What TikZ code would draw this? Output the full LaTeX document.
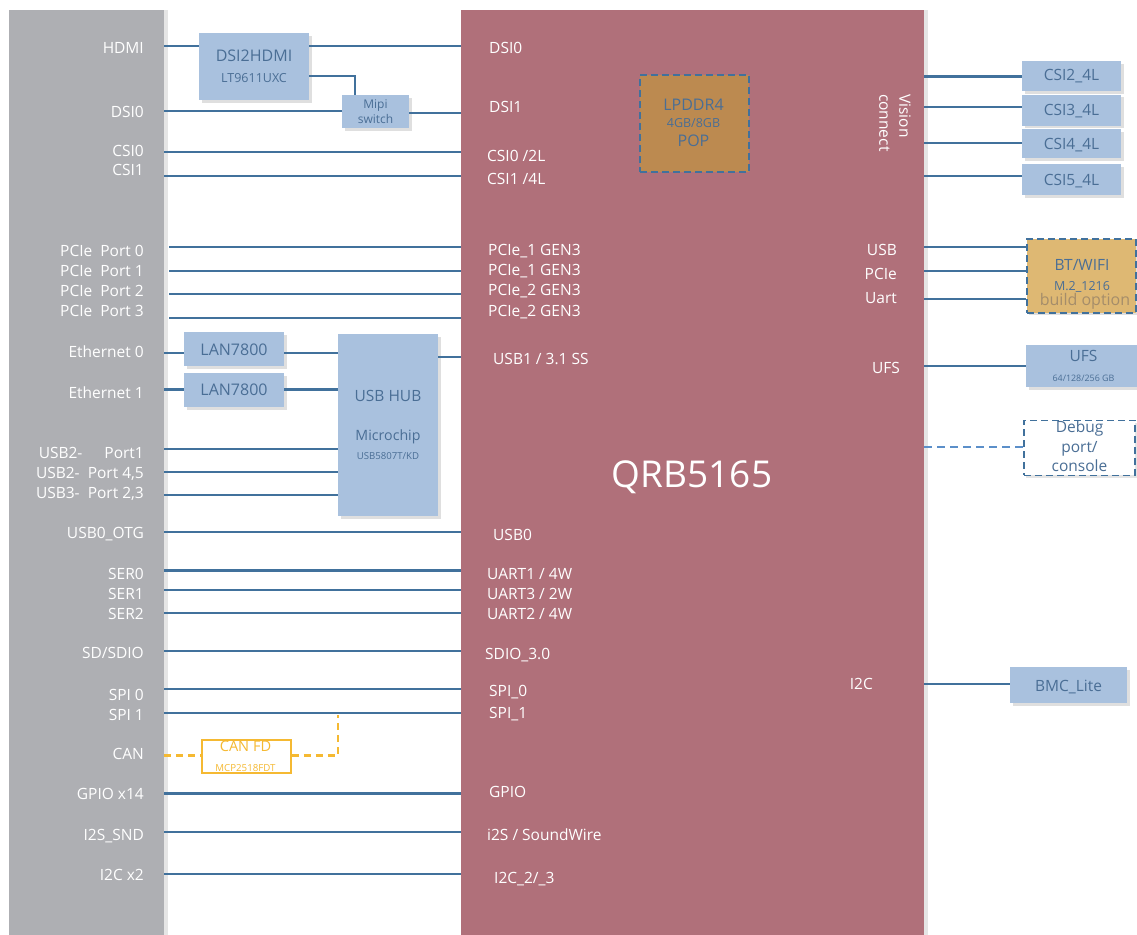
\documentclass[tikz,border=0pt]{standalone}
\usepackage{fontspec}
\setmainfont{Open Sans}
\usetikzlibrary{shadows}
\definecolor{wirec}{HTML}{41719C}
\definecolor{boxc}{HTML}{A9C1DE}
\definecolor{btxt}{HTML}{4A6E95}
\definecolor{panelgray}{HTML}{AEAFB3}
\definecolor{socred}{HTML}{B0707A}
\definecolor{canorange}{HTML}{F5B932}
\definecolor{ddrfill}{HTML}{BC8A50}
\definecolor{btfill}{HTML}{DEB873}
\definecolor{buildc}{HTML}{A58D6A}
\definecolor{dbgline}{HTML}{5B8FC9}
\newcommand\myfs[1]{\fontsize{#1}{#1}\selectfont}
\begin{document}
\begin{tikzpicture}[x=1pt,y=-1pt,
  lbl/.style={text=white, font=\myfs{15.5}, inner sep=0pt},
  llbl/.style={lbl, anchor=base east},
  rlbl/.style={lbl, anchor=base west},
  btext/.style={text=btxt, inner sep=0pt, anchor=base, font=\myfs{#1}},
  btext/.default=15.5,
  wire/.style={draw=wirec, line width=2.2pt},
  bluebox/.style={fill=boxc, inner sep=0pt, anchor=north west,
     drop shadow={shadow xshift=2.5pt, shadow yshift=-2.5pt, opacity=0.25}},
  panelshadow/.style={drop shadow={shadow xshift=4pt, shadow yshift=0pt, opacity=0.2}},
  dashbox/.style={draw=wirec, line width=1.8pt, dash pattern=on 7pt off 4pt, inner sep=0pt, anchor=north west},
]
\path[use as bounding box, fill=white] (0,0) rectangle (1137,934);

% panels
\node[fill=panelgray, panelshadow, inner sep=0pt, anchor=north west, minimum width=155, minimum height=950] (gray) at (9,10) {};
\node[fill=socred, panelshadow, inner sep=0pt, anchor=north west, minimum width=463, minimum height=950] (red) at (461,10) {};

% left labels
\node[llbl] (lHDMI) at (144,53) {HDMI};
\node[llbl] (lDSI0) at (144,117) {DSI0};
\node[llbl] (lCSI0) at (144,156) {CSI0};
\node[llbl] (lCSI1) at (144,175) {CSI1};
\node[llbl] (lP0) at (144,256) {PCIe\ \ Port 0};
\node[llbl] (lP1) at (144,276) {PCIe\ \ Port 1};
\node[llbl] (lP2) at (144,296) {PCIe\ \ Port 2};
\node[llbl] (lP3) at (144,316) {PCIe\ \ Port 3};
\node[llbl] (lE0) at (144,357) {Ethernet 0};
\node[llbl] (lE1) at (144,398) {Ethernet 1};
\node[llbl] (lU1) at (144,458) {USB2-\hspace{22pt}Port1};
\node[llbl] (lU2) at (144,478) {USB2-\ \ Port 4,5};
\node[llbl] (lU3) at (144,498) {USB3-\ \ Port 2,3};
\node[llbl] (lOTG) at (144,538) {USB0\_OTG};
\node[llbl] (lS0) at (144,579) {SER0};
\node[llbl] (lS1) at (144,599) {SER1};
\node[llbl] (lS2) at (144,619) {SER2};
\node[llbl] (lSD) at (144,658) {SD/SDIO};
\node[llbl] (lSPI0) at (144,700) {SPI 0};
\node[llbl] (lSPI1) at (144,720) {SPI 1};
\node[llbl] (lCAN) at (144,759) {CAN};
\node[llbl] (lGPIO) at (144,799) {GPIO x14};
\node[llbl] (lI2S) at (144,840) {I2S\_SND};
\node[llbl] (lI2C) at (144,880) {I2C x2};

% SoC left-side labels
\node[rlbl] (rDSI0) at (489,54) {DSI0};
\node[rlbl] (rDSI1) at (489,112) {DSI1};
\node[rlbl] (rCSI0) at (487,161) {CSI0 /2L};
\node[rlbl] (rCSI1) at (487,184) {CSI1 /4L};
\node[rlbl] (rP0) at (488,255) {PCIe\_1 GEN3};
\node[rlbl] (rP1) at (488,275) {PCIe\_1 GEN3};
\node[rlbl] (rP2) at (488,295) {PCIe\_2 GEN3};
\node[rlbl] (rP3) at (488,316) {PCIe\_2 GEN3};
\node[rlbl] (rUSB1) at (493,364) {USB1 / 3.1 SS};
\node[rlbl] (rUSB0) at (493,540) {USB0};
\node[rlbl] (rU1) at (487,579) {UART1 / 4W};
\node[rlbl] (rU3) at (487,599) {UART3 / 2W};
\node[rlbl] (rU2) at (487,619) {UART2 / 4W};
\node[rlbl] (rSDIO) at (485,659) {SDIO\_3.0};
\node[rlbl] (rSPI0) at (489,696) {SPI\_0};
\node[rlbl] (rSPI1) at (489,718) {SPI\_1};
\node[rlbl] (rGPIO) at (489,797) {GPIO};
\node[rlbl] (rI2S) at (487,840) {i2S / SoundWire};
\node[rlbl] (rI2C) at (494,883) {I2C\_2/\_3};

% SoC right-side labels
\node[llbl] (rUSB) at (897,255) {USB};
\node[llbl] (rPCIe) at (897,279) {PCIe};
\node[llbl] (rUart) at (897,303) {Uart};
\node[llbl] (rUFS) at (900,373) {UFS};
\node[llbl] (rI2Cr) at (873,689) {I2C};
\node[lbl, rotate=-90, anchor=north west, align=left, font=\fontsize{15.5}{20}\selectfont] (vision) at (911,94) {Vision\\connect};
\node[lbl, anchor=base, font=\myfs{37}] (soc) at (692,487) {QRB5165};

% LPDDR4
\node[dashbox, fill=ddrfill, minimum width=109, minimum height=97] (ddr) at (639,74) {};
\node[btext=16] (tddr1) at (693.5,110) {LPDDR4};
\node[btext=12.5] (tddr2) at (693.5,127) {4GB/8GB};
\node[btext=16] (tddr3) at (693.5,146) {POP};

% left side boxes
\node[bluebox, minimum width=110, minimum height=67] (d2h) at (199,33) {};
\node[btext=16] (td2h1) at (254,62) {DSI2HDMI};
\node[btext=12.5] (td2h2) at (254,82) {LT9611UXC};
\node[bluebox, minimum width=67, minimum height=33] (mipi) at (342,95) {};
\node[btext=12] (tmipi1) at (375.5,108) {Mipi};
\node[btext=12] (tmipi2) at (375.5,123) {switch};
\node[bluebox, minimum width=100, minimum height=34] (lan0) at (184,332) {};
\node[btext=16] (tlan0) at (234,355.5) {LAN7800};
\node[bluebox, minimum width=100, minimum height=34] (lan1) at (184,373) {};
\node[btext=16] (tlan1) at (234,395) {LAN7800};
\node[bluebox, minimum width=100, minimum height=182] (hub) at (338,334) {};
\node[btext=15.5] (thub1) at (388,401) {USB HUB};
\node[btext=14.2] (thub2) at (388,440) {Microchip};
\node[btext=9.6] (thub3) at (388,459) {USB5807T/KD};
\node[draw=canorange, line width=1.8pt, inner sep=0pt, anchor=north west, minimum width=89, minimum height=33] (can) at (201,739) {};
\node[btext=14.6, text=canorange] (tcan1) at (245.5,751) {CAN FD};
\node[btext=9.7, text=canorange] (tcan2) at (245.5,771) {MCP2518FDT};

% right side boxes
\node[bluebox, minimum width=99, minimum height=30] (csi2) at (1022,61) {};
\node[btext=15.5] (tcsi2) at (1071.5,80) {CSI2\_4L};
\node[bluebox, minimum width=99, minimum height=31] (csi3) at (1022,94.5) {};
\node[btext=15.5] (tcsi3) at (1071.5,115) {CSI3\_4L};
\node[bluebox, minimum width=99, minimum height=29] (csi4) at (1022,129) {};
\node[btext=15.5] (tcsi4) at (1071.5,149) {CSI4\_4L};
\node[bluebox, minimum width=99, minimum height=31] (csi5) at (1022,164) {};
\node[btext=15.5] (tcsi5) at (1071.5,185) {CSI5\_4L};
\node[dashbox, fill=btfill, minimum width=109, minimum height=74, drop shadow={shadow xshift=2.5pt, shadow yshift=-2.5pt, opacity=0.25}] (bt) at (1026,238) {};
\node[btext=15.5] (tbt1) at (1082,270) {BT/WIFI};
\node[btext=12.5] (tbt2) at (1082,290) {M.2\_1216};
\node[btext=16, text=buildc] (tbt3) at (1085,305) {build option};
\node[bluebox, minimum width=111, minimum height=42] (ufs) at (1026,345) {};
\node[btext=15.5] (tufs1) at (1083.5,361.5) {UFS};
\node[btext=8.9] (tufs2) at (1083.5,381.5) {64/128/256 GB};
\node[dashbox, fill=white, minimum width=111, minimum height=55, drop shadow={shadow xshift=2.5pt, shadow yshift=-2.5pt, opacity=0.2}] (dbg) at (1023,419.5) {};
\node[btext=15.5] (tdbg1) at (1079.5,432) {Debug};
\node[btext=15.5] (tdbg2) at (1079.5,452) {port/};
\node[btext=15.5] (tdbg3) at (1079.5,471.5) {console};
\node[bluebox, minimum width=117, minimum height=36] (bmc) at (1010,667) {};
\node[btext=15.5] (tbmc) at (1068.5,691) {BMC\_Lite};

% left wires
\draw[wire] (gray.east |- 0,46) -- (d2h.west |- 0,46);
\draw[wire] (d2h.east |- 0,46) -- (red.west |- 0,46);
\draw[wire] (d2h.east |- 0,76) -| (mipi.north -| 355,0);
\draw[wire] (gray.east |- 0,111) -- (mipi.west |- 0,111);
\draw[wire] (mipi.east |- 0,113) -- (red.west |- 0,113);
\draw[wire] (gray.east |- 0,152) -- (red.west |- 0,152);
\draw[wire] (gray.east |- 0,176) -- (red.west |- 0,176);
\foreach \yy in {247,271,294,318}{
  \draw[wire] (169,\yy) -- (red.west |- 0,\yy);
}
\draw[wire] (gray.east |- 0,353) -- (lan0.west |- 0,353);
\draw[wire] (lan0.east |- 0,353) -- (hub.west |- 0,353);
\draw[wire] (gray.east |- 0,389.5) -- (lan1.west |- 0,389.5);
\draw[wire] (lan1.east |- 0,389.5) -- (hub.west |- 0,389.5);
\draw[wire] (hub.east |- 0,357) -- (red.west |- 0,357);
\foreach \yy in {449,472,495}{
  \draw[wire] (gray.east |- 0,\yy) -- (hub.west |- 0,\yy);
}
\foreach \yy in {532,570.5,590,613,651,689,713,793.5,832,874}{
  \draw[wire] (gray.east |- 0,\yy) -- (red.west |- 0,\yy);
}
\draw[draw=canorange, line width=2.2pt, dash pattern=on 7pt off 5pt] (gray.east |- 0,755.5) -- (can.west |- 0,755.5);
\draw[draw=canorange, line width=2.2pt, dash pattern=on 7pt off 5pt] (can.east |- 0,755.5) -- (338,755.5) -- (338,715);

% right wires
\draw[wire] (red.east |- 0,76.5) -- (csi2.west |- 0,76.5);
\draw[wire] (red.east |- 0,107) -- (csi3.west |- 0,107);
\draw[wire] (red.east |- 0,143) -- (csi4.west |- 0,143);
\draw[wire] (red.east |- 0,176) -- (csi5.west |- 0,176);
\draw[wire] (red.east |- 0,247) -- (bt.west |- 0,247);
\draw[wire] (red.east |- 0,271) -- (bt.west |- 0,271);
\draw[wire] (red.east |- 0,299) -- (bt.west |- 0,299);
\draw[wire] (red.east |- 0,366) -- (ufs.west |- 0,366);
\draw[draw=dbgline, line width=2.2pt, dash pattern=on 8pt off 5pt] (red.east |- 0,447) -- (dbg.west |- 0,447);
\draw[wire] (red.east |- 0,684) -- (bmc.west |- 0,684);
\end{tikzpicture}
\end{document}
